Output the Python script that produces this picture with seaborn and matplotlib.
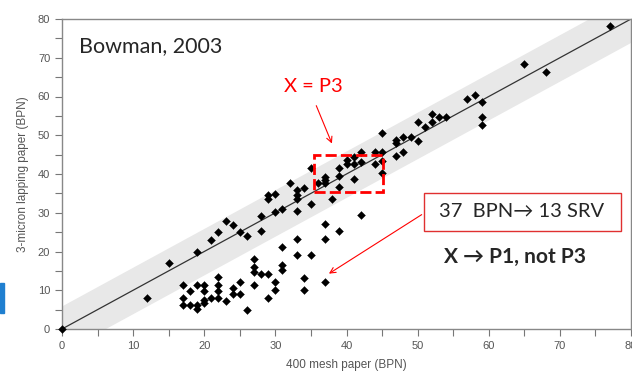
import matplotlib
matplotlib.use('Agg')
import matplotlib.pyplot as plt
from matplotlib.patches import Rectangle
import seaborn as sns
import pandas as pd

# points (400 mesh BPN vs 3-micron lapping BPN)
mesh_bpn = [0, 12, 15, 19, 21, 22, 23, 24, 25, 26, 28, 28, 29, 29, 30, 30, 31, 32,
            33, 33, 33, 33, 34, 35, 35, 36, 37, 37, 37, 38, 39, 39, 39, 40, 40, 41,
            41, 41, 42, 42, 44, 44, 45, 45, 45, 45, 47, 47, 47, 48, 48, 49, 50, 50,
            51, 52, 52, 53, 54, 57, 58, 59, 59, 59, 65, 68, 77,
            17, 17, 17, 18, 18, 19, 19, 19, 20, 20, 20, 20, 21, 22, 22, 22, 22, 23,
            24, 24, 25, 25, 26, 27, 27, 27, 27, 28, 29, 29, 30, 30, 31, 31, 31, 33,
            33, 34, 34, 35, 37, 37, 37, 39, 42]
lapping_bpn = [0, 8, 17, 20, 23, 25, 28, 26.8, 25.1, 24.1, 29.2, 25.2, 34.6, 33.6, 34.8,
               30.3, 31, 37.7, 35.8, 34.7, 33.6, 30.5, 36.4, 41.5, 32.3, 37.6, 39.3,
               38.5, 37.6, 33.5, 41.5, 39.4, 36.6, 43.5, 42.6, 44.3, 42.7, 38.6, 45.6,
               43.2, 45.6, 42.5, 50.7, 45.6, 43.3, 40.3, 48.9, 47.9, 44.7, 49.6, 45.6,
               49.6, 53.5, 48.5, 52.2, 55.6, 53.3, 54.6, 54.6, 59.4, 60.5, 58.6, 54.6,
               52.6, 68.5, 66.4, 78.2,
               11.3, 8.1, 6.1, 9.9, 6.1, 11.3, 6.1, 5.1, 11.3, 9.9, 7.5, 6.6, 8.1, 13.3,
               11.3, 9.9, 8.1, 7.3, 10.5, 9.1, 12.1, 9.1, 4.9, 18.1, 16.1, 14.8, 11.3,
               14.1, 14.1, 8.1, 12.1, 10.1, 21.1, 16.5, 15.2, 23.1, 19.2, 13.1, 10.1,
               19.2, 27.2, 23.2, 12.2, 25.2, 29.3]

# 1:1 line and its band
fit_x = [0, 80]
fit_y = [0, 80]
band_half = 6

x_ticks = [0, 10, 20, 30, 40, 50, 60, 70, 80]
y_ticks = [0, 10, 20, 30, 40, 50, 60, 70, 80]

df = pd.DataFrame({'mesh': mesh_bpn, 'lapping': lapping_bpn})

sns.set_style('white')
plt.rcParams['font.family'] = ['Liberation Sans', 'DejaVu Sans']

fig = plt.figure(figsize=(6.32, 3.72), dpi=100)
ax = fig.add_axes([62 / 632, 43 / 372, 569 / 632, 310 / 372])

ax.fill_between(fit_x, [v - band_half for v in fit_y], [v + band_half for v in fit_y],
                color='#e8e8e8', lw=0, zorder=1)
sns.lineplot(x=fit_x, y=fit_y, ax=ax, color='#333333', lw=0.9, zorder=2)
sns.scatterplot(data=df, x='mesh', y='lapping', ax=ax, marker='D', s=16,
                color='black', edgecolor='black', linewidth=0.3, zorder=3, clip_on=False)

ax.set_xlim(0, 80)
ax.set_ylim(0, 80)
ax.set_xticks(x_ticks)
ax.set_yticks(y_ticks)
ax.set_xticks(range(5, 80, 10), minor=True)
ax.set_yticks(range(5, 80, 10), minor=True)
ax.tick_params(which='both', direction='out', length=5, width=0.8, color='#777777',
               labelcolor='#555555', labelsize=8, bottom=True, left=True)
for s in ax.spines.values():
    s.set_color('#888888')
    s.set_linewidth(1)

ax.set_xlabel('400 mesh paper (BPN)', fontsize=8.5, color='#555555', labelpad=6)
ax.set_ylabel('3-micron lapping paper (BPN)', fontsize=8.5, color='#555555', labelpad=6)

# annotations
fam = ['Lato', 'DejaVu Sans']
ax.text(2.4, 73, 'Bowman, 2003', fontsize=15.5, family=fam, va='center', ha='left')
ax.text(35.3, 62.5, 'X = P3', fontsize=14.5, family=fam, color='red', va='center', ha='center')
ax.annotate('', xy=(38.1, 47.2), xytext=(35.6, 58.3),
            arrowprops=dict(arrowstyle='->', color='red', lw=0.8))
ax.add_patch(Rectangle((35.5, 35.3), 9.7, 9.6, fill=False, ec='red', lw=2,
                       ls=(0, (4, 1.5)), zorder=4))
ax.add_patch(Rectangle((50.9, 25.3), 27.7, 9.8, fill=False, ec='#e03030', lw=1, zorder=4))
ax.text(64.6, 30.2, '37  BPN\u2192 13 SRV', fontsize=14.5, family=fam, va='center', ha='center')
ax.annotate('', xy=(37.2, 13.9), xytext=(50.9, 29.9),
            arrowprops=dict(arrowstyle='->', color='red', lw=0.8))
ax.text(63.7, 18.6, 'X \u2192 P1, not P3', fontsize=15, family=fam, fontweight='bold',
        va='center', ha='center')

# slide edge marker on the left
fig.patches.append(Rectangle((0, 1 - 313 / 372), 4 / 632, 30 / 372, transform=fig.transFigure,
                             color='#1f7fd0', figure=fig))

fig.savefig('out.png', dpi=100)
